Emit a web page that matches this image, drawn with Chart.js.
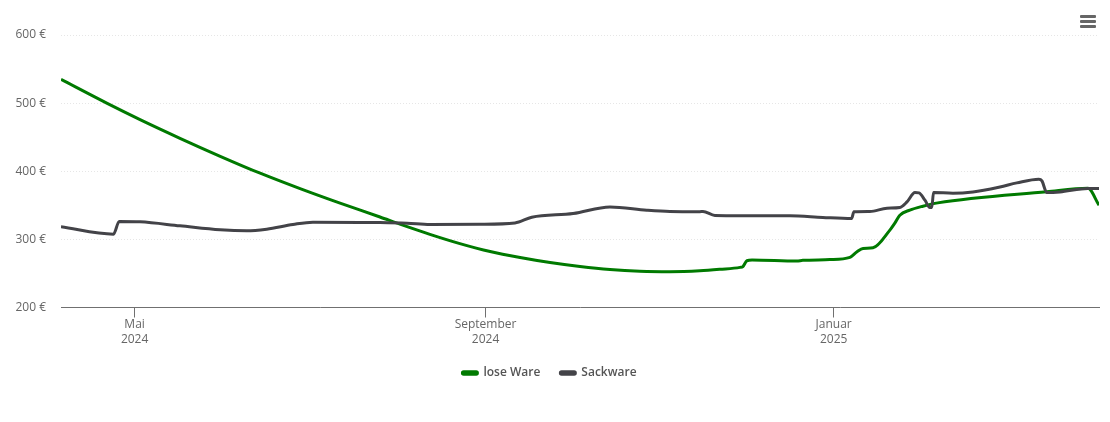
<!DOCTYPE html>
<html lang="de">
<head>
<meta charset="utf-8">
<title>Preisverlauf</title>
<script src="https://cdn.jsdelivr.net/npm/chart.js@4/dist/chart.umd.js"></script>
<style>
    html, body { margin: 0; padding: 0; background: #fff; overflow: hidden; }
    #wrap { position: relative; width: 1110px; height: 422px; }
    #menu { position: absolute; left: 1080px; top: 15px; width: 16px; }
    #menu div { height: 3px; margin-bottom: 2px; background: #666; border-radius: 1px; }
</style>
</head>
<body>
<div id="wrap">
    <canvas id="preisChart" width="1110" height="422"></canvas>
    <div id="menu"><div></div><div></div><div></div></div>
</div>
<script>
// x values are days counted from 1 May 2024
const loseDays = [-25.8, -9.6, 1.9, 15.9, 30, 44, 58, 72, 86, 93, 103.5, 114, 124.6, 135.1, 145.6, 156.1, 166.6, 177.1, 187.6, 198.1, 205.1, 212.2, 213.2, 214.6, 216.4, 232.1, 234.2, 243.7, 250.7, 253.2, 255.3, 258.8, 264.7, 266.5, 268.2, 271.7, 276.3, 281.5, 319.7, 334.1, 338];
const loseValues = [534.8, 499.6, 475.8, 448.4, 422, 397.1, 374.4, 353.1, 332.9, 322.3, 307.4, 293.8, 282.1, 273.3, 265.9, 260.1, 255.7, 253.2, 252.5, 253.8, 256, 258.9, 260.1, 268.6, 269.6, 268.1, 269.2, 270.3, 273.6, 281.8, 286.7, 287.6, 313.6, 324.2, 335.5, 342.9, 348.7, 353.6, 370, 375, 350.2];

const sackDays = [-25.8, -7.4, -5.4, 1.9, 15.9, 30, 39.3, 46.3, 55.5, 62.5, 86, 95.5, 103.5, 121, 133.3, 139.2, 153.7, 166.6, 179.5, 187.6, 198.1, 199.2, 203.4, 229.7, 241.2, 251.3, 252.1, 257.7, 263.7, 268.2, 270.7, 273.5, 274.9, 277, 278.7, 279.4, 280, 286.8, 293.8, 303.3, 309.2, 316.9, 318, 319.7, 324.3, 334.1, 338];
const sackValues = [318.4, 307.7, 326.3, 325.7, 319.9, 314, 312.5, 315, 321.9, 325.3, 324.8, 323.8, 321.9, 322.3, 324.2, 332.6, 338, 347.7, 342.9, 341, 340.7, 341, 335.1, 334.5, 332.2, 330.7, 340.4, 340.9, 345.8, 346.8, 355, 368.8, 368.2, 357.5, 346.8, 346.8, 368.8, 367.8, 369.7, 377, 382.9, 388.3, 385.8, 368.8, 369.7, 374.7, 374.7];

const monthTicks = [0, 123, 245];
const monthLabels = [['Mai', '2024'], ['September', '2024'], ['Januar', '2025']];
const priceTicks = [200, 300, 400, 500, 600];

function toPoints(days, values) {
    return days.map((d, i) => ({ x: d, y: values[i] }));
}

Chart.defaults.font.family = '"Open Sans", sans-serif';
Chart.defaults.font.size = 12;
Chart.defaults.color = '#666666';

const ctx = document.getElementById('preisChart').getContext('2d');
new Chart(ctx, {
    type: 'line',
    data: {
        datasets: [
            {
                label: 'lose Ware',
                data: toPoints(loseDays, loseValues),
                borderColor: '#007a00',
                backgroundColor: '#007a00',
                borderWidth: 3,
                pointRadius: 0,
                cubicInterpolationMode: 'monotone',
                order: 2
            },
            {
                label: 'Sackware',
                data: toPoints(sackDays, sackValues),
                borderColor: '#434348',
                backgroundColor: '#434348',
                borderWidth: 3,
                pointRadius: 0,
                cubicInterpolationMode: 'monotone',
                order: 1
            }
        ]
    },
    options: {
        responsive: false,
        animation: false,
        layout: { padding: { top: 35, right: 11, bottom: 33 } },
        plugins: {
            tooltip: { enabled: true },
            legend: {
                position: 'bottom',
                labels: {
                    sort: (a, b) => a.datasetIndex - b.datasetIndex,
                    boxWidth: 15,
                    boxHeight: 2.5,
                    useBorderRadius: true,
                    borderRadius: 1.25,
                    padding: 20,
                    color: '#555555',
                    font: { weight: '600', size: 12 }
                }
            }
        },
        scales: {
            x: {
                type: 'linear',
                min: -25.8,
                max: 338,
                afterBuildTicks: scale => { scale.ticks = monthTicks.map(v => ({ value: v })); },
                afterFit: scale => { scale.height = 39.5; },
                border: { color: '#707070' },
                grid: { drawOnChartArea: false, tickLength: 10, tickColor: '#707070' },
                ticks: {
                    maxRotation: 0,
                    autoSkip: false,
                    padding: 0,
                    font: { lineHeight: 1.25 },
                    callback: value => monthLabels[monthTicks.indexOf(value)]
                }
            },
            y: {
                min: 200,
                max: 600,
                afterBuildTicks: scale => { scale.ticks = priceTicks.map(v => ({ value: v })); },
                afterFit: scale => { scale.width = 61; },
                border: { display: false, dash: [1, 2] },
                grid: { color: '#e6e6e6', drawTicks: false },
                ticks: { padding: 15, callback: value => value + ' €' }
            }
        }
    }
});
</script>
</body>
</html>
